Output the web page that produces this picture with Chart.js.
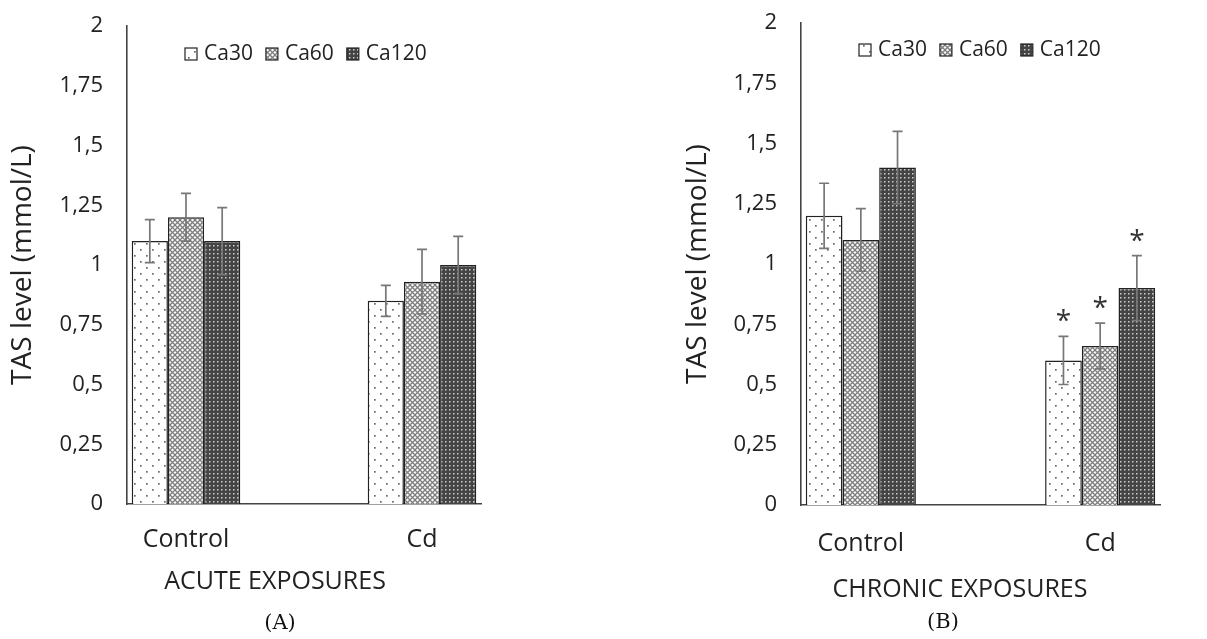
<!DOCTYPE html>
<html>
<head>
<meta charset="utf-8">
<script src="https://cdn.jsdelivr.net/npm/chart.js@4.4.1/dist/chart.umd.min.js"></script>
<style>
  html, body { margin: 0; padding: 0; background: #fff; }
  body { width: 1207px; height: 639px; position: relative; overflow: hidden; }
  canvas { position: absolute; top: 0; }
  #chartA { left: 0; }
  #chartB { left: 675px; }
</style>
</head>
<body>
<canvas id="chartA" width="600" height="639"></canvas>
<canvas id="chartB" width="532" height="639"></canvas>
<script>
// data
const groups = ["Control", "Cd"];
const seriesNames = ["Ca30", "Ca60", "Ca120"];
const yTickLabels = ["0", "0,25", "0,5", "0,75", "1", "1,25", "1,5", "1,75", "2"];

const acuteCa30 = [1.1, 0.85];
const acuteCa60 = [1.2, 0.93];
const acuteCa120 = [1.1, 1.0];
const acuteErr30 = [0.09, 0.065];
const acuteErr60 = [0.1, 0.135];
const acuteErr120 = [0.14, 0.12];

const chronicCa30 = [1.2, 0.6];
const chronicCa60 = [1.1, 0.66];
const chronicCa120 = [1.4, 0.9];
const chronicErr30 = [0.135, 0.1];
const chronicErr60 = [0.13, 0.095];
const chronicErr120 = [0.15, 0.135];
const chronicMarks30 = ["", "*"];
const chronicMarks60 = ["", "*"];
const chronicMarks120 = ["", "*"];

const FONT = '"Open Sans", sans-serif';
const TEXT = "#222";

// fill patterns like the Excel ones
function makePattern(kind) {
  const c = document.createElement("canvas");
  const g = c.getContext("2d");
  if (kind === "dots") {
    c.width = 12; c.height = 12;
    g.fillStyle = "#fff"; g.fillRect(0, 0, 12, 12);
    g.fillStyle = "#6a6a6a";
    g.fillRect(2, 3, 1.7, 1.7);
    g.fillRect(8, 9, 1.7, 1.7);
  } else if (kind === "cross") {
    c.width = 5; c.height = 5;
    g.fillStyle = "#fafafa"; g.fillRect(0, 0, 5, 5);
    g.strokeStyle = "#7d7d7d"; g.lineWidth = 1.25;
    g.beginPath();
    g.moveTo(0, 0); g.lineTo(5, 5);
    g.moveTo(5, 0); g.lineTo(0, 5);
    g.stroke();
  } else {
    c.width = 4; c.height = 4;
    g.fillStyle = "#444"; g.fillRect(0, 0, 4, 4);
    g.fillStyle = "#cfcfcf"; g.fillRect(1, 1, 1.5, 1.5);
  }
  return g.createPattern(c, "repeat");
}
const fills = [makePattern("dots"), makePattern("cross"), makePattern("grid")];

// error bars + significance stars
const errorBars = {
  id: "errorBars",
  afterDatasetsDraw(chart) {
    const { ctx, scales: { y } } = chart;
    chart.data.datasets.forEach((ds, i) => {
      const meta = chart.getDatasetMeta(i);
      meta.data.forEach((bar, j) => {
        const v = ds.data[j].y;
        const e = ds.errors[j];
        const top = y.getPixelForValue(v + e);
        const bot = y.getPixelForValue(v - e);
        ctx.save();
        ctx.strokeStyle = "#777";
        ctx.lineWidth = 1.7;
        ctx.beginPath();
        ctx.moveTo(bar.x, top); ctx.lineTo(bar.x, bot);
        ctx.moveTo(bar.x - 5, top); ctx.lineTo(bar.x + 5, top);
        ctx.moveTo(bar.x - 5, bot); ctx.lineTo(bar.x + 5, bot);
        ctx.stroke();
        if (ds.marks && ds.marks[j]) {
          ctx.fillStyle = "#333";
          ctx.font = "28px " + FONT;
          ctx.textAlign = "center";
          ctx.textBaseline = "alphabetic";
          ctx.fillText(ds.marks[j], bar.x, top - 22 + 16);
        }
        ctx.restore();
      });
    });
  }
};

// legend inside the plot, x title and panel caption
const extras = {
  id: "extras",
  afterDraw(chart, args, opts) {
    const { ctx, chartArea } = chart;
    ctx.save();
    // legend
    ctx.font = "21px " + FONT;
    ctx.textBaseline = "middle";
    ctx.textAlign = "left";
    let x = chartArea.left + opts.legendDx;
    const ly = chartArea.top + opts.legendDy;
    chart.data.datasets.forEach((ds) => {
      ctx.fillStyle = ds.backgroundColor;
      ctx.fillRect(x, ly - 6, 12, 12);
      ctx.strokeStyle = "#222";
      ctx.lineWidth = 1.2;
      ctx.strokeRect(x, ly - 6, 12, 12);
      x += 19;
      ctx.fillStyle = TEXT;
      ctx.fillText(ds.label, x, ly);
      x += ctx.measureText(ds.label).width + 13;
    });
    // x title
    ctx.textAlign = "center";
    ctx.font = "25px " + FONT;
    ctx.fillStyle = TEXT;
    ctx.fillText(opts.title, chartArea.left + opts.titleDx, opts.titleY);
    // caption
    ctx.font = '21px "DejaVu Serif", serif';
    ctx.fillStyle = "#111";
    ctx.fillText(opts.caption, chartArea.left + opts.captionDx, opts.captionY);
    ctx.restore();
  }
};

function makeChart(id, vals, errs, marks, p) {
  const datasets = seriesNames.map((name, i) => ({
    label: name,
    data: vals[i].map((v, j) => ({ x: j, y: v })),
    errors: errs[i],
    marks: marks ? marks[i] : null,
    backgroundColor: fills[i],
    borderColor: "#222",
    borderWidth: 1.5,
    categoryPercentage: 0.46,
    barPercentage: 1,
  }));

  return new Chart(document.getElementById(id), {
    type: "bar",
    data: { datasets },
    options: {
      responsive: false,
      animation: false,
      layout: { padding: { left: 0, top: p.top, right: p.right, bottom: 0 } },
      plugins: {
        legend: { display: false },
        tooltip: { enabled: false },
        extras: p.extras,
      },
      scales: {
        x: {
          type: "linear",
          offset: false,
          min: -0.25,
          max: 1.25,
          grid: { display: false, drawTicks: false },
          border: { display: true, color: "#444", width: 1.6 },
          afterBuildTicks: (s) => { s.ticks = groups.map((g, i) => ({ value: i })); },
          afterFit: (s) => { s.height = p.xHeight; s.paddingLeft = 0; s.paddingRight = 0; },
          ticks: {
            color: TEXT,
            font: { family: FONT, size: 25 },
            padding: p.xPad,
            maxRotation: 0,
            autoSkip: false,
            callback: (v) => groups[v],
          },
        },
        y: {
          min: 0,
          max: 2,
          grid: { display: false, drawTicks: false },
          border: { display: true, color: "#444", width: 1.6 },
          afterFit: (s) => { s.width = p.yWidth; s.paddingTop = 0; s.paddingBottom = 0; },
          ticks: {
            stepSize: 0.25,
            color: TEXT,
            font: { family: FONT, size: 22 },
            padding: 24,
            callback: (v, i) => yTickLabels[i],
          },
          title: {
            display: true,
            text: "TAS level (mmol/L)",
            color: TEXT,
            font: { family: FONT, size: 28 },
            padding: { top: 6, bottom: 0 },
          },
        },
      },
    },
    plugins: [errorBars, extras],
  });
}

makeChart("chartA",
  [acuteCa30, acuteCa60, acuteCa120],
  [acuteErr30, acuteErr60, acuteErr120],
  null,
  { top: 26, right: 119, xHeight: 135, yWidth: 127, xPad: 21,
    extras: { legendDx: 58, legendDy: 28, title: "ACUTE EXPOSURES", titleDx: 148, titleY: 582,
              caption: "(A)", captionDx: 153, captionY: 624 } });

makeChart("chartB",
  [chronicCa30, chronicCa60, chronicCa120],
  [chronicErr30, chronicErr60, chronicErr120],
  [chronicMarks30, chronicMarks60, chronicMarks120],
  { top: 23, right: 47, xHeight: 134, yWidth: 126, xPad: 24,
    extras: { legendDx: 58, legendDy: 27, title: "CHRONIC EXPOSURES", titleDx: 159, titleY: 590,
              caption: "(B)", captionDx: 142, captionY: 623 } });
</script>
</body>
</html>
